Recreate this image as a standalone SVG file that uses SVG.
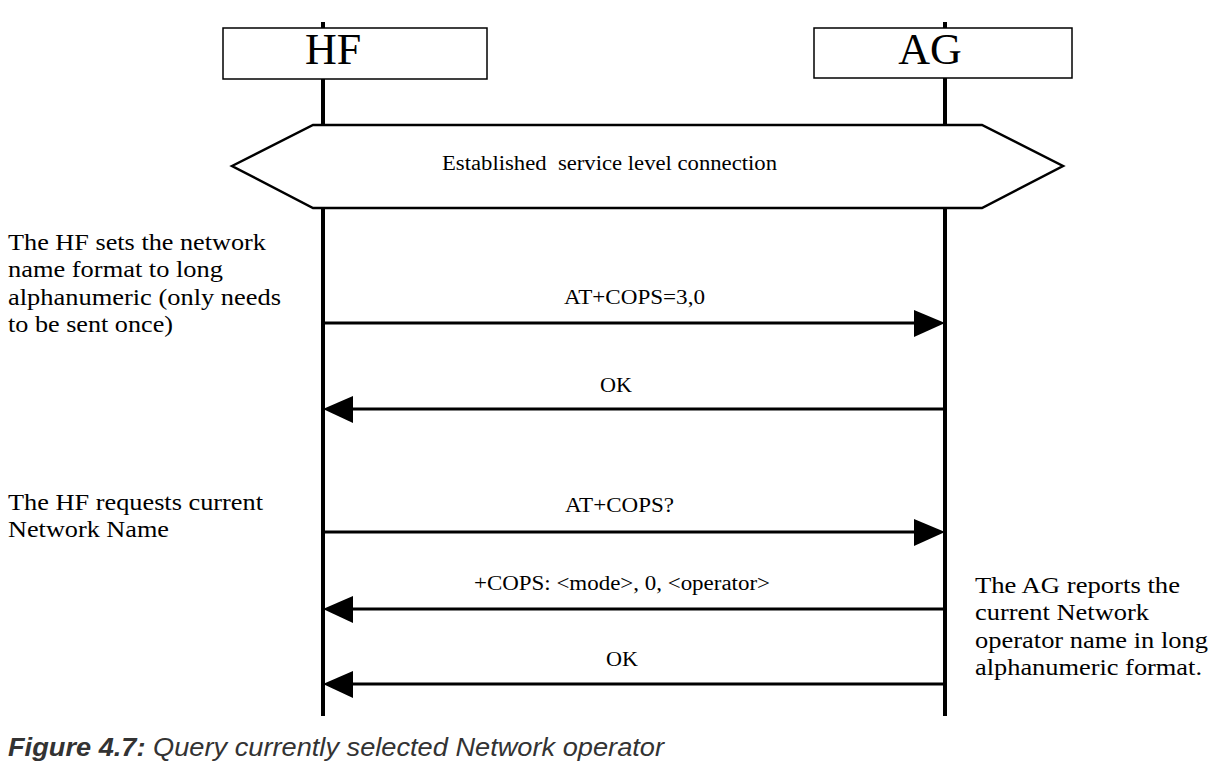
<svg xmlns="http://www.w3.org/2000/svg" width="1213" height="772" viewBox="0 0 1213 772">
<style>
.box{fill:#fff;stroke:#000;stroke-width:1.5}
.life{stroke:#000;stroke-width:4}
.msg{stroke:#000;stroke-width:3;fill:none}
.head{fill:#000}
.hex{fill:#fff;stroke:#000;stroke-width:2.5}
.ent{font-family:"Liberation Serif","Times New Roman",serif;font-size:44px;fill:#000;text-anchor:middle}
.lbl{font-family:"Liberation Serif","Times New Roman",serif;font-size:20px;fill:#000;text-anchor:middle}
.note{font-family:"Liberation Serif","Times New Roman",serif;font-size:23px;fill:#000}
.cap{font-family:"Liberation Sans",Arial,sans-serif;font-size:26px;font-style:italic;fill:#333}
</style>
<rect width="1213" height="772" fill="#fff"/>
<g id="lifelines">
<line class="life" x1="323" y1="22" x2="323" y2="716"/>
<line class="life" x1="945" y1="22" x2="945" y2="716"/>
</g>
<g id="HF">
<rect class="box" x="223" y="28" width="264" height="51"/>
<text class="ent" x="333" y="64">HF</text>
</g>
<g id="AG">
<rect class="box" x="814" y="28" width="258" height="50"/>
<text class="ent" x="930" y="64">AG</text>
</g>
<g id="connection">
<polygon class="hex" points="232,166 313,125 982,125 1063,166 982,208 313,208"/>
<text class="lbl" x="609.5" y="170" textLength="335" lengthAdjust="spacingAndGlyphs">Established&#160; service level connection</text>
</g>
<g id="connectors">
<line class="msg" x1="323" y1="323" x2="916" y2="323"/>
<polygon class="head" points="914,310 945,323 914,337"/>
<line class="msg" x1="945" y1="409" x2="352" y2="409"/>
<polygon class="head" points="353,396 323,409 353,423"/>
<line class="msg" x1="323" y1="532" x2="916" y2="532"/>
<polygon class="head" points="914,519 945,532 914,546"/>
<line class="msg" x1="945" y1="609" x2="352" y2="609"/>
<polygon class="head" points="353,596 323,609 353,623"/>
<line class="msg" x1="945" y1="684" x2="352" y2="684"/>
<polygon class="head" points="353,671 323,684 353,698"/>
</g>
<g id="labels">
<text class="lbl" x="634.5" y="304" textLength="141" lengthAdjust="spacingAndGlyphs">AT+COPS=3,0</text>
<text class="lbl" x="616" y="392" textLength="32" lengthAdjust="spacingAndGlyphs">OK</text>
<text class="lbl" x="619.5" y="512" textLength="109" lengthAdjust="spacingAndGlyphs">AT+COPS?</text>
<text class="lbl" x="622" y="590" textLength="296" lengthAdjust="spacingAndGlyphs">+COPS: &lt;mode&gt;, 0, &lt;operator&gt;</text>
<text class="lbl" x="622" y="666" textLength="32" lengthAdjust="spacingAndGlyphs">OK</text>
</g>
<g id="note-hf-1" class="note">
<text x="8" y="250" textLength="258" lengthAdjust="spacingAndGlyphs">The HF sets the network</text>
<text x="8" y="277" textLength="215" lengthAdjust="spacingAndGlyphs">name format to long</text>
<text x="8" y="305" textLength="273" lengthAdjust="spacingAndGlyphs">alphanumeric (only needs</text>
<text x="8" y="332" textLength="165" lengthAdjust="spacingAndGlyphs">to be sent once)</text>
</g>
<g id="note-hf-2" class="note">
<text x="8" y="510" textLength="255" lengthAdjust="spacingAndGlyphs">The HF requests current</text>
<text x="8" y="537" textLength="161" lengthAdjust="spacingAndGlyphs">Network Name</text>
</g>
<g id="note-ag" class="note">
<text x="975" y="593" textLength="205" lengthAdjust="spacingAndGlyphs">The AG reports the</text>
<text x="975" y="620" textLength="174" lengthAdjust="spacingAndGlyphs">current Network</text>
<text x="975" y="648" textLength="233" lengthAdjust="spacingAndGlyphs">operator name in long</text>
<text x="975" y="675" textLength="227" lengthAdjust="spacingAndGlyphs">alphanumeric format.</text>
</g>
<g id="caption">
<text class="cap" x="8" y="756" textLength="656" lengthAdjust="spacingAndGlyphs"><tspan font-weight="bold">Figure 4.7:</tspan> Query currently selected Network operator</text>
</g>
</svg>
